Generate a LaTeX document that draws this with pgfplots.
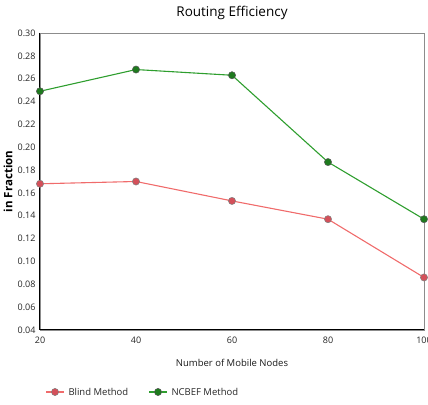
\documentclass[border=0pt]{standalone}
\usepackage{pgfplots}
\pgfplotsset{compat=1.18}
\usepackage{fontspec}
\setmainfont{Open Sans}
\definecolor{blindline}{HTML}{F06B6B}
\definecolor{blindmark}{HTML}{D4505A}
\definecolor{ncbefline}{HTML}{2E9E2E}
\definecolor{ncbefmark}{HTML}{1E7A1E}
\definecolor{frame}{HTML}{8C8C8C}
\begin{document}
\begin{tikzpicture}
\useasboundingbox[clip] (0pt,0pt) rectangle (428pt,404pt);
\begin{axis}[
  at={(40pt,74pt)}, anchor=south west,
  scale only axis, width=384pt, height=297pt,
  xmin=20, xmax=100, ymin=0.04, ymax=0.30,
  xtick={20,40,60,80,100},
  ytick={0.04,0.06,...,0.30},
  yticklabel style={xshift=-1pt, /pgf/number format/.cd,fixed,fixed zerofill,precision=2},
  /pgf/number format/assume math mode=true,
  tick label style={font=\fontsize{9}{10}\selectfont, text=black!85},
  xticklabel style={yshift=-3pt},
  major tick length=0pt,
  axis line style={frame, line width=0.9pt},
  clip=false,
  xlabel={Number of Mobile Nodes},
  xlabel style={font=\fontsize{9.5}{11}\selectfont, text=black!90, at={(axis description cs:0.5,0)}, anchor=center, yshift=-33pt},
  ylabel={\bfseries in Fraction},
  ylabel style={font=\fontsize{11.5}{13}\selectfont, at={(axis description cs:0,0.5)}, anchor=center, yshift=32pt},
  title={Routing Efficiency},
  title style={font=\fontsize{13.5}{15}\selectfont, text=black, at={(axis description cs:0.5,1)}, anchor=center, yshift=14pt},
  every axis plot/.append style={line width=1.1pt, mark=*, mark size=3.6pt},
]
\addplot[blindline, mark options={fill=blindmark, draw=gray, line width=0.5pt}]
  coordinates {(20,0.168) (40,0.170) (60,0.153) (80,0.137) (100,0.086)};
\addplot[ncbefline, mark options={fill=ncbefmark, draw=gray!70!black, line width=0.5pt}]
  coordinates {(20,0.249) (40,0.268) (60,0.263) (80,0.187) (100,0.137)};
\draw[black, line width=1pt] (rel axis cs:0,1) -- (rel axis cs:0,0) -- (rel axis cs:1,0);
\end{axis}
% legend
\begin{scope}[font=\fontsize{9.5}{11}\selectfont]
\draw[blindline, line width=1.1pt] (46pt,12pt) -- (64pt,12pt);
\fill[blindmark, draw=gray, line width=0.5pt] (55pt,12pt) circle (3.6pt);
\node[anchor=west, text=black!85] at (65pt,12pt) {Blind Method};
\draw[ncbefline, line width=1.1pt] (149pt,12pt) -- (167pt,12pt);
\fill[ncbefmark, draw=gray!70!black, line width=0.5pt] (158pt,12pt) circle (3.6pt);
\node[anchor=west, text=black!85] at (168pt,12pt) {NCBEF Method};
\end{scope}
\end{tikzpicture}
\end{document}
